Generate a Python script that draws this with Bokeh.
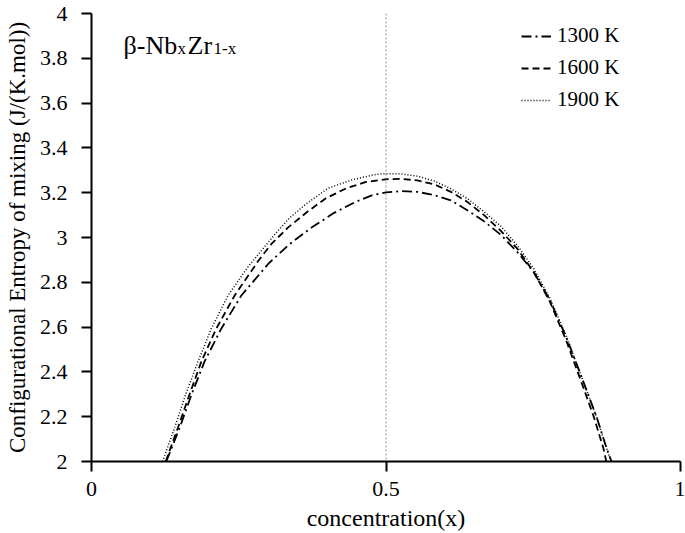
from bokeh.plotting import figure
from bokeh.models import FixedTicker, Span, Label, Legend, LegendItem, Range1d
from bokeh.embed import file_html
from bokeh.resources import INLINE

# ---- data ----
x_1300 = [0.127, 0.150, 0.170, 0.192, 0.2205, 0.2544, 0.301, 0.336, 0.373, 0.412, 0.449,
          0.477, 0.50, 0.525, 0.553, 0.582, 0.610, 0.638, 0.6665, 0.695, 0.723, 0.751,
          0.778, 0.806, 0.836, 0.858, 0.875, 0.883]
y_1300 = [2.0, 2.153, 2.300, 2.447, 2.594, 2.741, 2.885, 2.97, 3.043, 3.11, 3.16,
          3.189, 3.201, 3.207, 3.204, 3.189, 3.166, 3.122, 3.072, 3.012, 2.935, 2.845,
          2.722, 2.555, 2.35, 2.195, 2.055, 2.0]

x_1600 = [0.126, 0.147, 0.1665, 0.1866, 0.212, 0.243, 0.283, 0.305, 0.333, 0.367, 0.398,
          0.432, 0.466, 0.50, 0.525, 0.553, 0.582, 0.610, 0.638, 0.6665, 0.695, 0.723,
          0.751, 0.778, 0.806, 0.833, 0.853, 0.869, 0.874]
y_1600 = [2.0, 2.153, 2.300, 2.447, 2.594, 2.741, 2.895, 2.97, 3.043, 3.116, 3.175,
          3.219, 3.248, 3.26, 3.262, 3.255, 3.237, 3.204, 3.159, 3.10, 3.03, 2.95,
          2.845, 2.715, 2.54, 2.345, 2.198, 2.06, 2.0]

x_1900 = [0.1206, 0.1414, 0.160, 0.181, 0.2035, 0.2317, 0.266, 0.311, 0.336, 0.3645, 0.401,
          0.443, 0.483, 0.50, 0.525, 0.553, 0.582, 0.610, 0.638, 0.6665, 0.695, 0.723,
          0.751, 0.778, 0.806, 0.836, 0.858, 0.875, 0.882]
y_1900 = [2.0, 2.153, 2.300, 2.447, 2.594, 2.741, 2.87, 3.013, 3.087, 3.15, 3.219,
          3.258, 3.282, 3.285, 3.284, 3.274, 3.252, 3.218, 3.174, 3.115, 3.05, 2.965,
          2.86, 2.73, 2.56, 2.35, 2.195, 2.055, 2.0]

series_labels = ["1300 K", "1600 K", "1900 K"]

x_ticks = [0, 0.5, 1]
x_tick_labels = ["0", "0.5", "1"]
y_ticks = [2, 2.2, 2.4, 2.6, 2.8, 3, 3.2, 3.4, 3.6, 3.8, 4]
y_tick_labels = ["2", "2.2", "2.4", "2.6", "2.8", "3", "3.2", "3.4", "3.6", "3.8", "4"]

x_title = "concentration(x)"
y_title = "Configurational Entropy of mixing (J/(K.mol))"

FONT = "Liberation Serif"

p = figure(width=685, height=533, output_backend="svg", toolbar_location=None,
           x_range=Range1d(0, 1), y_range=Range1d(2, 4),
           min_border_left=91, min_border_right=5, min_border_top=13, min_border_bottom=71)
p.grid.visible = False
p.outline_line_color = None
p.background_fill_color = "white"
p.border_fill_color = "white"

span = Span(location=0.5, dimension="height", line_color="#8a8a8a", line_dash="2 2", line_width=1)
p.add_layout(span)

r1 = p.line(x_1300, y_1300, line_color="black", line_width=1.8, line_dash="10 4 2 4")
r2 = p.line(x_1600, y_1600, line_color="black", line_width=1.8, line_dash="7 4")
r3 = p.line(x_1900, y_1900, line_color="black", line_width=1.5, line_dash="1 2")

for ax in (p.xaxis[0], p.yaxis[0]):
    ax.axis_line_width = 2
    ax.axis_line_color = "black"
    ax.major_tick_line_width = 2
    ax.major_tick_line_color = "black"
    ax.major_tick_out = 10
    ax.major_tick_in = 0
    ax.minor_tick_out = 0
    ax.minor_tick_in = 0
    ax.major_label_text_font = FONT
    ax.major_label_text_font_size = "22px"
    ax.major_label_text_color = "black"
    ax.axis_label_text_font = FONT
    ax.axis_label_text_font_style = "normal"
    ax.axis_label_text_color = "black"

p.xaxis.ticker = FixedTicker(ticks=x_ticks)
p.xaxis.major_label_overrides = dict(zip(x_ticks, x_tick_labels))
p.xaxis.major_label_standoff = 10
p.xaxis.axis_label = x_title
p.xaxis.axis_label_text_font_size = "24px"
p.xaxis.axis_label_standoff = 6

p.yaxis.ticker = FixedTicker(ticks=y_ticks)
p.yaxis.major_label_overrides = dict(zip(y_ticks, y_tick_labels))
p.yaxis.major_label_standoff = 14
p.yaxis.axis_label = y_title
p.yaxis.axis_label_text_font_size = "23px"
p.yaxis.axis_label_standoff = 7

# in-plot title  β-Nb_x Zr_{1-x}
title_parts = [("β-Nb", 32, 416, "26px"), ("x", 86, 413, "17px"),
               ("Zr", 96, 416, "26px"), ("1-x", 122, 413, "17px")]
for txt, tx, ty, fs in title_parts:
    p.add_layout(Label(x=tx, y=ty, x_units="screen", y_units="screen", text=txt,
                       text_font=FONT, text_font_size=fs, text_align="left",
                       text_baseline="alphabetic", text_color="black"))

legend = Legend(items=[LegendItem(label=series_labels[0], renderers=[r1]),
                       LegendItem(label=series_labels[1], renderers=[r2]),
                       LegendItem(label=series_labels[2], renderers=[r3])],
                location=(430, 349), orientation="vertical",
                background_fill_alpha=0, border_line_color=None,
                padding=0, margin=0, spacing=7, glyph_width=30, glyph_height=20,
                label_standoff=6, label_text_font=FONT, label_text_font_size="21px",
                label_height=20, label_text_color="black")
p.add_layout(legend)

open("out.html", "w").write(file_html(p, INLINE))
